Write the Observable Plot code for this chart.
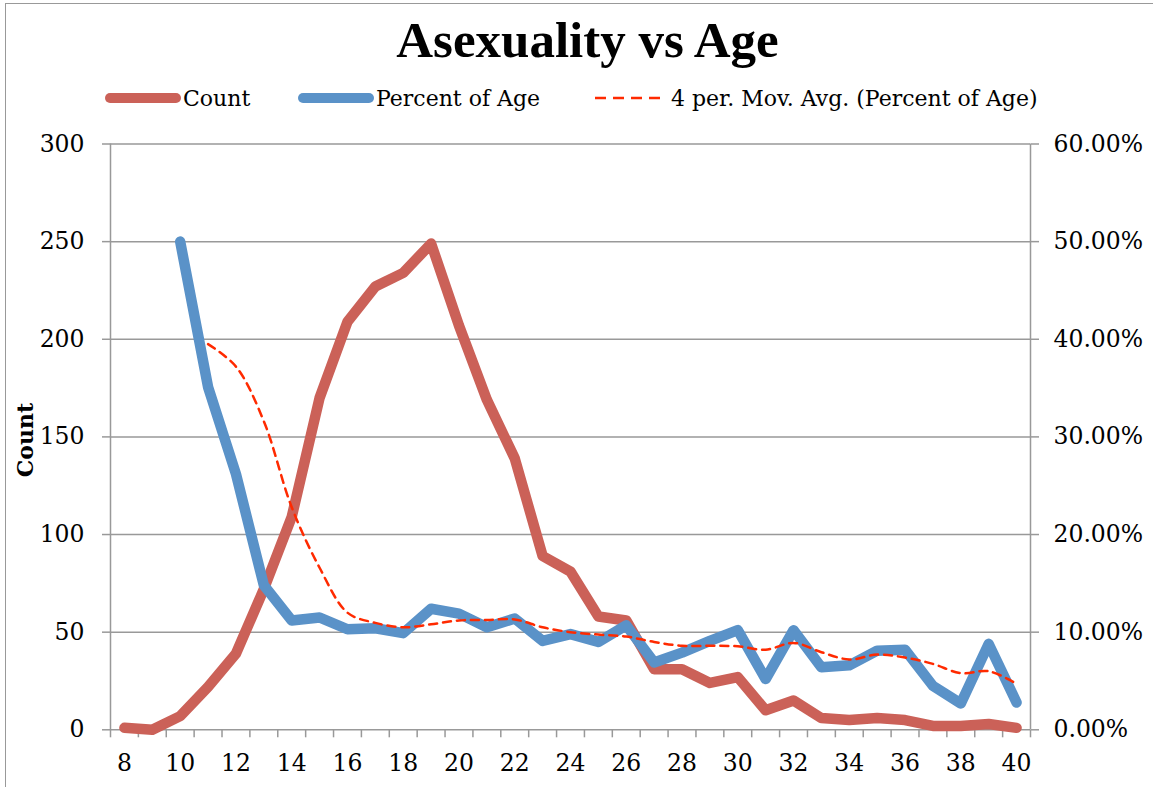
<!DOCTYPE html>
<html>
<head>
<meta charset="utf-8">
<script src="https://cdn.jsdelivr.net/npm/d3@7"></script>
<script src="https://cdn.jsdelivr.net/npm/@observablehq/plot@0.6"></script>
<style>
  html, body { margin: 0; padding: 0; background: #fff; width: 1153px; height: 787px; overflow: hidden; position: relative; }
  #frame { position: absolute; left: 5px; top: 3px; width: 1200px; height: 900px; border: 1.5px solid #999; box-sizing: border-box; }
  #title { position: absolute; left: 0; width: 1175px; top: 15px; text-align: center; font-family: "Liberation Serif", serif; font-weight: bold; font-size: 51px; line-height: 51px; color: #000; }
  #legend { position: absolute; top: 84px; left: 0; height: 28px; width: 1153px; font-family: "DejaVu Serif", serif; font-size: 22px; color: #000; }
  .item { position: absolute; top: 0; height: 28px; display: flex; align-items: center; white-space: nowrap; }
  .item svg { display: block; margin-right: 2px; }
  #ylab { position: absolute; left: 25px; top: 440px; transform: translate(-50%, -50%) rotate(-90deg); font-family: "DejaVu Serif", serif; font-weight: bold; font-size: 22px; color: #000; white-space: nowrap; }
  #chart { position: absolute; left: 0; top: 120px; }
</style>
</head>
<body>
<div id="frame"></div>
<div id="title">Asexuality vs Age</div>
<div id="legend"></div>
<div id="ylab">Count</div>
<div id="chart"></div>
<script>
// ---- data ----
const ages = [8,9,10,11,12,13,14,15,16,17,18,19,20,21,22,23,24,25,26,27,28,29,30,31,32,33,34,35,36,37,38,39,40];
const counts = [1,0,7,22,39,72,109,170,209,227,234,249,207,169,139,89,81,58,56,31,31,24,27,10,15,6,5,6,5,2,2,3,1];
const pctAges = [10,11,12,13,14,15,16,17,18,19,20,21,22,23,24,25,26,27,28,29,30,31,32,33,34,35,36,37,38,39,40];
const percentOfAge = [50,35.1,26.2,14.8,11.2,11.5,10.3,10.4,9.9,12.4,11.9,10.5,11.4,9.1,9.8,9.0,10.7,6.9,7.9,9.1,10.2,5.2,10.2,6.4,6.6,8.1,8.2,4.5,2.7,8.8,2.8];
const maAges = [11,12,13,14,15,16,17,18,19,20,21,22,23,24,25,26,27,28,29,30,31,32,33,34,35,36,37,38,39,40];
const movAvg = [39.5,37.2,31.6,22.8,16.6,12.0,10.95,10.5,10.8,11.2,11.25,11.3,10.5,10.0,9.75,9.55,9.0,8.6,8.6,8.55,8.2,8.9,7.95,7.2,7.7,7.4,6.75,5.8,6.0,4.7];
const countTicks = [0,50,100,150,200,250,300];
const pctTicks = [0,10,20,30,40,50,60]; // percent labels on right axis
const xLabelTicks = [8,10,12,14,16,18,20,22,24,26,28,30,32,34,36,38,40];
const seriesNames = ["Count", "Percent of Age", "4 per. Mov. Avg. (Percent of Age)"];
const colors = ["#CB6158", "#5A92C8", "#FF2A00"];

// tables built from the arrays
const countData = ages.map((a, i) => ({age: a, v: counts[i]}));
const pctData = pctAges.map((a, i) => ({age: a, v: percentOfAge[i]}));
const maData = maAges.map((a, i) => ({age: a, v: movAvg[i]}));
const minorTicks = ages.map(a => a - 0.5).concat([ages[ages.length - 1] + 0.5]);
const pctToCount = 300 / 60; // right axis 0–60% aligned with left 0–300

const grey = "#999";
const chart = Plot.plot({
  width: 1153,
  height: 667,
  marginLeft: 110,
  marginRight: 123,
  marginTop: 23.5,
  marginBottom: 57.7,
  x: {domain: [7.5, 40.5]},
  y: {domain: [0, 300]},
  style: {fontFamily: "DejaVu Serif", fontSize: "23.5px", color: "#000", background: "transparent", overflow: "visible"},
  marks: [
    Plot.gridY(countTicks, {stroke: grey, strokeOpacity: 1, strokeWidth: 1.5}),
    Plot.ruleX([7.5, 40.5], {stroke: grey, strokeWidth: 1.5}),
    Plot.axisY(countTicks, {anchor: "left", tickSize: 8, tickPadding: 18, stroke: grey, strokeOpacity: 1, strokeWidth: 1.5, fill: "#000", label: null}),
    Plot.axisY(pctTicks.map(p => p * pctToCount), {anchor: "right", tickSize: 8, tickPadding: 15, stroke: grey, strokeOpacity: 1, strokeWidth: 1.5, fill: "#000", label: null, textAnchor: "start",
      tickFormat: d => (d / pctToCount).toFixed(2) + "%"}),
    Plot.axisX(minorTicks, {anchor: "bottom", tickSize: 8, stroke: grey, strokeOpacity: 1, strokeWidth: 1.5, tickFormat: () => "", label: null}),
    Plot.axisX(xLabelTicks, {anchor: "bottom", tickSize: 0, tickPadding: 25, fill: "#000", label: null, tickFormat: d => String(d)}),
    Plot.line(countData, {x: "age", y: "v", stroke: colors[0], strokeWidth: 10.5, strokeLinecap: "round", strokeLinejoin: "round"}),
    Plot.line(pctData, {x: "age", y: d => d.v * pctToCount, stroke: colors[1], strokeWidth: 10.5, strokeLinecap: "round", strokeLinejoin: "round"}),
    Plot.line(maData, {x: "age", y: d => d.v * pctToCount, stroke: colors[2], strokeWidth: 2.5, strokeDasharray: "8,6", curve: "catmull-rom"})
  ]
});
document.getElementById("chart").appendChild(chart);

// legend
const legend = document.getElementById("legend");
const positions = [105, 298, 595];
const swatchW = [76, 76, 66];
seriesNames.forEach((name, i) => {
  const item = document.createElement("div");
  item.className = "item";
  item.style.left = positions[i] + "px";
  const w = swatchW[i];
  let sw;
  if (i < 2) {
    sw = `<svg width="${w}" height="14"><line x1="5" y1="7" x2="${w - 5}" y2="7" stroke="${colors[i]}" stroke-width="10" stroke-linecap="round"/></svg>`;
  } else {
    sw = `<svg width="${w + 8}" height="14"><line x1="0" y1="7" x2="${w}" y2="7" stroke="${colors[i]}" stroke-width="2.5" stroke-dasharray="11,7"/></svg>`;
  }
  item.innerHTML = sw + `<span>${name}</span>`;
  legend.appendChild(item);
});
</script>
</body>
</html>
